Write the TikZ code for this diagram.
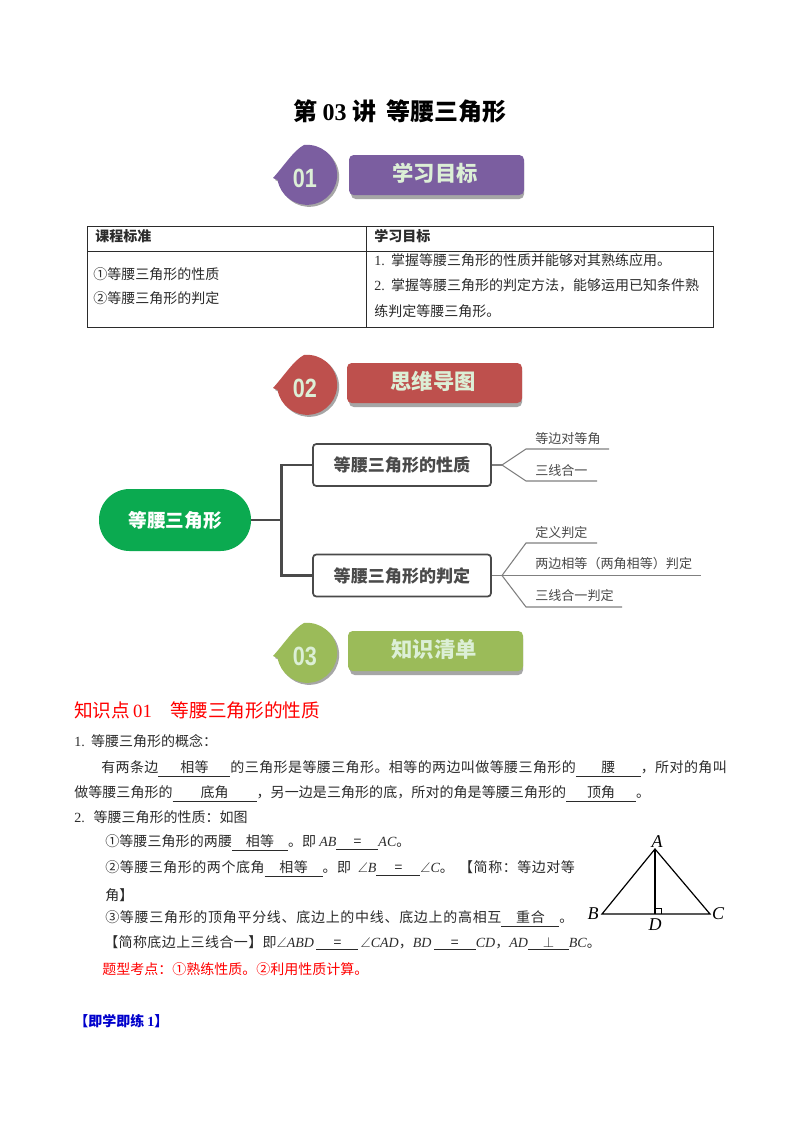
\documentclass[tikz,border=0pt]{standalone}
\usepackage{fontspec}
\usepackage{amssymb}
\setmainfont{Noto Sans CJK SC}
\newfontfamily\ser{Liberation Serif}
\newfontfamily\sans{Liberation Sans}
\newdimen\pxu \pxu=0.75pt
\definecolor{mapgray}{HTML}{4A4A4A}
\definecolor{mapgreen}{HTML}{0BAA50}
\definecolor{tipgreen}{HTML}{DCEFD6}
\definecolor{txtgray}{HTML}{2B2B2B}
\definecolor{shadegray}{HTML}{A6A6A6}
\definecolor{goalviolet}{HTML}{7B5EA0}
\definecolor{mapred}{HTML}{BE504D}
\definecolor{listgreen}{HTML}{9BBB59}
\newcommand{\fillin}[2]{\underline{\makebox[#1\pxu]{#2}}}
\newcommand{\mi}[1]{{\ser\itshape #1}}
\newcommand{\lat}[1]{{\ser #1}}
\newcommand{\ls}[1]{\addfontfeature{LetterSpace=#1}}
% one section badge: name, shift x, shift y, colour, number, title, title x, title y
\newcommand{\badge}[9]{
	\begin{scope}[shift={(#2,#3)}]
	\fill[shadegray](275,-180) .. controls (286,-168) and (296,-152) .. (306,-147) arc [start angle=96,end angle=-170,radius=30]--cycle;
	\fill[#4](273,-178) .. controls (284,-166) and (294,-150) .. (304,-145) arc [start angle=96,end angle=-170,radius=30]--cycle;
	\end{scope}
	\fill[shadegray,rounded corners=3.5pt](#9+2,-#8-3) rectangle (#9+175,-#8-44);
	\fill[#4,rounded corners=3.5pt](#9,-#8) rectangle (#9+175,-#8-40);
	\node[font=\sans\bfseries\fontsize{18}{18}\selectfont,text=tipgreen] (#1num) at (#2+305,#3-178) {\scalebox{0.9}[1.1]{#5}};
	\node[font=\bfseries\fontsize{16}{16}\selectfont,text=tipgreen] (#1bar) at (#9+86,-#8-18) {#6};
}
\tikzset{
	line/.style={anchor=west,inner sep=0pt,font=\fontsize{10.5}{10.5}\selectfont,text=txtgray},
	cell/.style={line},
	leaf/.style={anchor=west,inner sep=0pt,font=\fontsize{9.8}{9.8}\selectfont,text=mapgray},
	topic/.style={draw=mapgray,line width=1.3pt,rounded corners=2.5pt,minimum width=133.5pt,minimum height=31.5pt,inner sep=0pt,font=\bfseries\fontsize{12.8}{12.8}\selectfont,text=mapgray},
	trunk/.style={draw=mapgray,line width=2.1pt},
	fork/.style={draw=gray,line width=0.8pt},
	corner/.style={inner sep=0pt,font=\ser\itshape\fontsize{13.5}{13.5}\selectfont}
}
\begin{document}
\begin{tikzpicture}[x=0.75pt,y=0.75pt]
	\useasboundingbox[fill=white] (0,0) rectangle (800,-1132);
	
	\node[inner sep=0pt,font=\bfseries\fontsize{18}{18}\selectfont] (title) at (400,-111) {第 {\ser\bfseries 03} 讲\ \ 等腰三角形};
	
	% badges
	\badge{one}{0}{0}{goalviolet}{01}{学习目标}{}{155}{349}
	
	% objectives table
	\draw[line width=0.75pt,txtgray](87,-226) rectangle (713,-327);
	\draw[line width=0.75pt,txtgray](87,-251)--(713,-251);
	\draw[line width=0.75pt,txtgray](366,-226)--(366,-327);
	\node[cell,font=\bfseries\fontsize{10.5}{10.5}\selectfont] (hleft) at (95,-236) {课程标准};
	\node[cell,font=\bfseries\fontsize{10.5}{10.5}\selectfont] (hright) at (374,-236) {学习目标};
	\node[cell] (lone) at (93,-274) {①等腰三角形的性质};
	\node[cell] (ltwo) at (93,-298) {②等腰三角形的判定};
	\node[cell] (rone) at (374,-260) {\lat{1.}\ \ 掌握等腰三角形的性质并能够对其熟练应用。};
	\node[cell] (rtwo) at (374,-285) {\lat{2.}\ \ 掌握等腰三角形的判定方法，能够运用已知条件熟};
	\node[cell] (rthree) at (374,-311) {练判定等腰三角形。};
	
	\badge{two}{0}{-210}{mapred}{02}{思维导图}{}{363}{347}
	
	% mind map
	\node[fill=mapgreen,rounded corners=23pt,minimum width=114pt,minimum height=46.5pt,inner sep=0pt,text=white,font=\bfseries\fontsize{14}{14}\selectfont] (root) at (175,-520) {等腰三角形};
	\node[topic] (nature) at (402,-465) {等腰三角形的性质};
	\node[topic] (judge) at (402,-575.5) {等腰三角形的判定};
	\coordinate (hub) at (281.5,-520);
	\draw[trunk](root.east)--(hub);
	\draw[trunk](nature.west)-|(hub)|-(judge.west);
	
	\node[leaf] (sideangle) at (535,-439) {等边对等角};
	\node[leaf] (threeline) at (535,-470.5) {三线合一};
	\node[leaf] (defjudge) at (535,-533) {定义判定};
	\node[leaf] (twosides) at (535,-564) {两边相等（两角相等）判定};
	\node[leaf] (threejudge) at (535,-596) {三线合一判定};
	
	\coordinate (forka) at (502,-465);
	\coordinate (forkb) at (502,-575.5);
	\coordinate (enda) at (609,-449);
	\coordinate (endb) at (597,-481);
	\coordinate (endc) at (597,-543);
	\coordinate (endd) at (701,-575.5);
	\coordinate (ende) at (622,-607);
	\draw[fork](nature.east)--(forka);
	\draw[fork](forka)--(526,-449)--(enda);
	\draw[fork](forka)--(526,-481)--(endb);
	\draw[fork](judge.east)--(forkb);
	\draw[fork](forkb)--(526,-543)--(endc);
	\draw[fork](forkb)--(endd);
	\draw[fork](forkb)--(526,-607)--(ende);
	
	\badge{three}{0}{-478}{listgreen}{03}{知识清单}{}{631}{348}
	
	% body text
	\node[line,font=\fontsize{14}{14}\selectfont,text=red] (point) at (74,-710) {知识点\hspace{2.2pt}{\ser 01}\hspace{14.2pt}等腰三角形的性质};
	\node[line] (lineone) at (74,-741) {\lat{1.}\ \ 等腰三角形的概念：};
	\node[line] (linetwo) at (101,-769) {\ls{2.9}有两条边\fillin{72}{相等}的三角形是等腰三角形。相等的两边叫做等腰三角形的\fillin{65}{腰}，所对的角叫};
	\node[line] (linethree) at (74,-794) {\ls{0.5}做等腰三角形的\fillin{84}{底角}，另一边是三角形的底，所对的角是等腰三角形的\fillin{70}{顶角}。};
	\node[line] (linefour) at (74,-817) {\lat{2.}\ \ \hspace{2pt}等腰三角形的性质：如图};
	\node[line] (linefive) at (105,-843) {\ls{0.7}①等腰三角形的两腰\fillin{56}{相等}。即 \mi{AB}\fillin{42}{=}\mi{AC}。};
	\node[line] (linesix) at (105,-869) {\ls{3.8}②等腰三角形的两个底角\fillin{58}{相等}。即\hspace{5pt}$\angle$\mi{B}\fillin{44}{=}$\angle$\mi{C}。\hspace{4pt}【简称：等边对等};
	\node[line] (lineseven) at (105,-895) {角】};
	\node[line] (lineeight) at (105,-919) {\ls{5}③等腰三角形的顶角平分线、底边上的中线、底边上的高相互\fillin{58}{重合}。};
	\node[line] (linenine) at (104,-943) {\ls{2.9}【简称底边上三线合一】即$\angle$\mi{ABD}\,\fillin{42}{=}\,$\angle$\mi{CAD}，\mi{BD}\,\fillin{42}{=}\mi{CD}，\mi{AD}\fillin{41}{$\perp$}\mi{BC}。};
	\node[line,text=red] (lineten) at (102,-969) {题型考点：①熟练性质。②利用性质计算。};
	\node[line,font=\bfseries\fontsize{10.5}{10.5}\selectfont,text=blue!80!black] (practice) at (74,-1021) {【即学即练 {\ser\bfseries 1}】};
	
	% triangle
	\coordinate (A) at (655,-849);
	\coordinate (B) at (602,-914);
	\coordinate (C) at (710,-914);
	\coordinate (D) at (655,-914);
	\draw[line width=0.9pt](A)--(B)--(C)--cycle;
	\draw[line width=0.9pt](A)--(D);
	\draw[line width=0.5pt](655,-908)--(661,-908)--(661,-914);
	\node[corner] (labA) at (657,-842) {A};
	\node[corner] (labB) at (593,-914) {B};
	\node[corner] (labC) at (718,-914) {C};
	\node[corner] (labD) at (655,-925) {D};
	
\end{tikzpicture}
\end{document}
